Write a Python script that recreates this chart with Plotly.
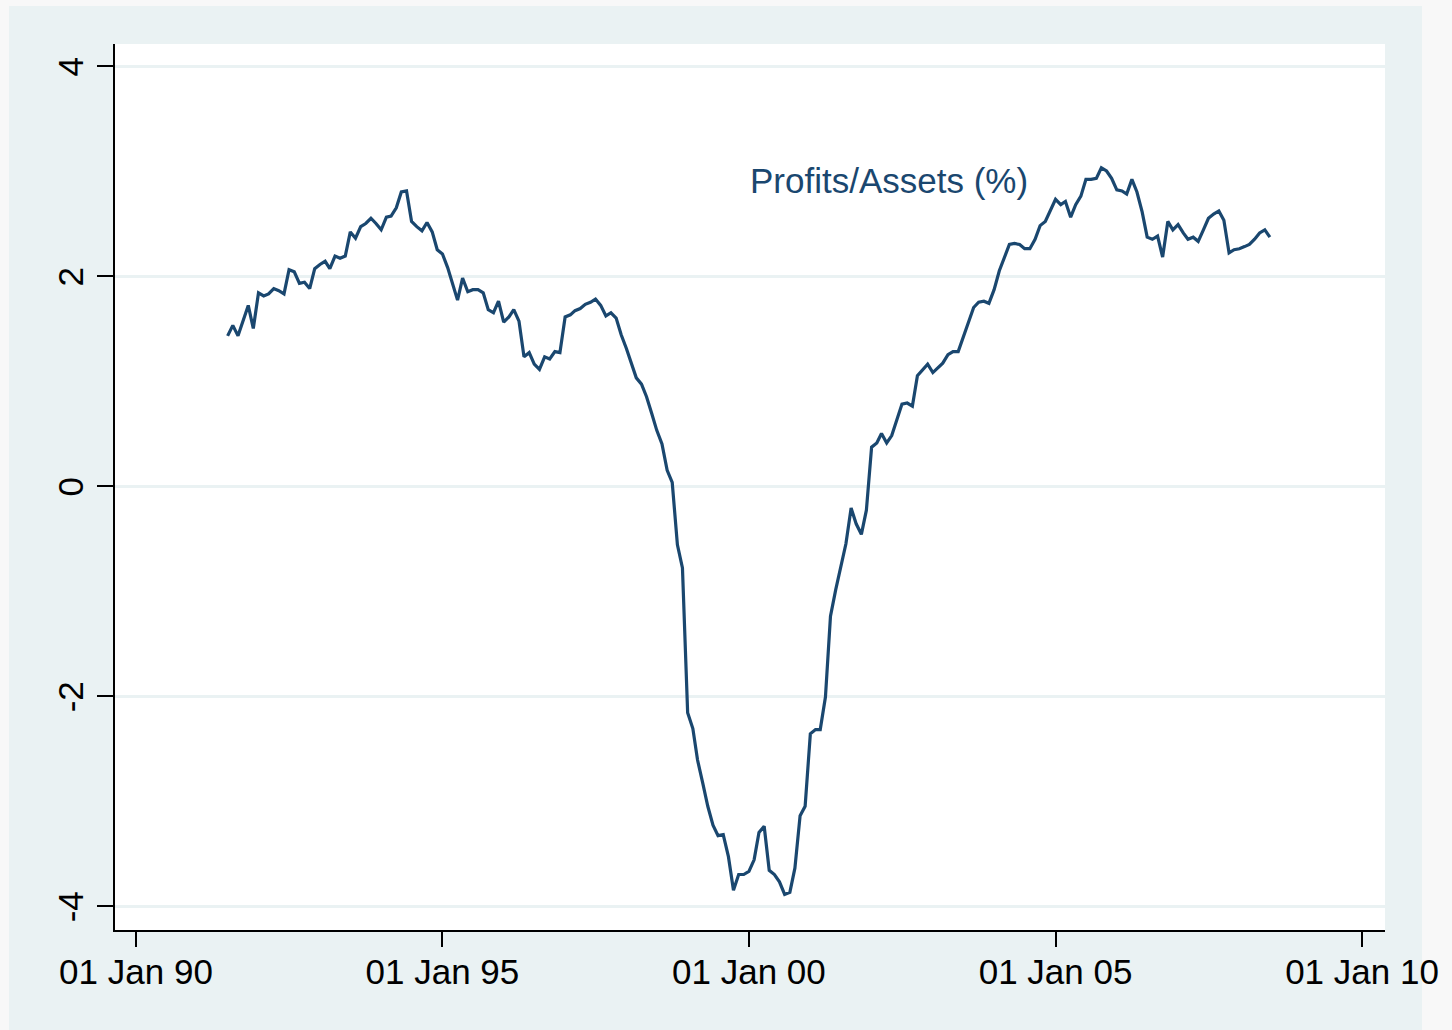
import pandas as pd
import plotly.graph_objects as go

# Monthly series, July 1991 .. July 2008
start_month = "1991-07-01"
profits_assets = [
    1.43, 1.53, 1.43, 1.58, 1.72, 1.50, 1.84, 1.81, 1.83, 1.88, 1.86, 1.83,
    2.06, 2.04, 1.93, 1.94, 1.88, 2.07, 2.11, 2.14, 2.07, 2.19, 2.17, 2.19,
    2.42, 2.36, 2.47, 2.50, 2.55, 2.50, 2.44, 2.56, 2.57, 2.65, 2.80, 2.81,
    2.52, 2.47, 2.43, 2.51, 2.42, 2.25, 2.21, 2.08, 1.93, 1.77, 1.98, 1.85,
    1.87, 1.87, 1.84, 1.68, 1.65, 1.76, 1.56, 1.61, 1.68, 1.57, 1.23, 1.27,
    1.16, 1.11, 1.23, 1.21, 1.28, 1.27, 1.61, 1.63, 1.67, 1.69, 1.73, 1.75,
    1.78, 1.72, 1.62, 1.65, 1.60, 1.44, 1.31, 1.17, 1.03, 0.97, 0.85, 0.69,
    0.53, 0.40, 0.15, 0.035, -0.56, -0.78, -2.16, -2.31, -2.61, -2.83, -3.05, -3.23,
    -3.33, -3.32, -3.53, -3.85, -3.70, -3.70, -3.67, -3.56, -3.30, -3.24, -3.66, -3.70,
    -3.77, -3.89, -3.87, -3.64, -3.14, -3.05, -2.36, -2.32, -2.32, -2.01, -1.24, -0.99,
    -0.78, -0.55, -0.21, -0.36, -0.46, -0.23, 0.37, 0.41, 0.50, 0.41, 0.48, 0.63,
    0.78, 0.79, 0.76, 1.05, 1.11, 1.16, 1.08, 1.13, 1.17, 1.25, 1.28, 1.28,
    1.42, 1.56, 1.70, 1.75, 1.76, 1.74, 1.87, 2.05, 2.17, 2.30, 2.31, 2.30,
    2.26, 2.26, 2.35, 2.48, 2.52, 2.63, 2.73, 2.68, 2.71, 2.56, 2.68, 2.76,
    2.92, 2.92, 2.93, 3.03, 3.00, 2.93, 2.82, 2.81, 2.78, 2.92, 2.80, 2.61,
    2.37, 2.35, 2.38, 2.18, 2.52, 2.44, 2.49, 2.41, 2.35, 2.37, 2.33, 2.44,
    2.55, 2.59, 2.62, 2.53, 2.22, 2.25, 2.26, 2.28, 2.30, 2.35, 2.41, 2.44,
    2.37,
]
dates = pd.date_range(start_month, periods=len(profits_assets), freq="MS")

x_tick_vals = ["1990-01-01", "1995-01-01", "2000-01-01", "2005-01-01", "2010-01-01"]
x_tick_text = ["01 Jan 90", "01 Jan 95", "01 Jan 00", "01 Jan 05", "01 Jan 10"]
y_tick_vals = [-4, -2, 0, 2, 4]
y_tick_text = ["-4", "-2", "0", "2", "4"]

series_label = "Profits/Assets (%)"
label_x = "1999-12-26"
label_y = 2.91

navy = "#1A476F"
panel = "#EAF2F3"
font_family = "Liberation Sans, Arial, sans-serif"

fig = go.Figure()
fig.add_trace(go.Scatter(x=dates, y=profits_assets, mode="lines",
                         line=dict(color=navy, width=3.2), showlegend=False))

fig.add_annotation(x=label_x, y=label_y, xref="x", yref="y", text=series_label,
                   showarrow=False, xanchor="left", yanchor="middle",
                   font=dict(size=35, color=navy, family=font_family))

W, H = 1452, 1030
L, R, T, B = 115, 1385, 44, 930
pw, ph = R - L, B - T
def px_x(p):
    return (p - L) / pw
def px_y(p):
    return (B - p) / ph

# outer panel (graph region) and white plot region
fig.add_shape(type="rect", xref="paper", yref="paper", layer="below",
              x0=px_x(9), x1=px_x(1422), y0=px_y(1030), y1=px_y(6),
              fillcolor=panel, line=dict(width=0))
fig.add_shape(type="rect", xref="paper", yref="paper", layer="below",
              x0=0, x1=1, y0=0, y1=1, fillcolor="white", line=dict(width=0))

fig.update_layout(
    width=W, height=H,
    margin=dict(l=L, r=W - R, t=T, b=H - B, pad=0),
    paper_bgcolor="#F8F8F8",
    plot_bgcolor="rgba(0,0,0,0)",
    font=dict(family=font_family, size=35, color="black"),
    showlegend=False,
)
fig.update_xaxes(
    type="date", range=["1989-08-29", "2010-05-18"],
    tickmode="array", tickvals=x_tick_vals, ticktext=x_tick_text,
    showgrid=False, zeroline=False,
    showline=True, linecolor="black", linewidth=2,
    ticks="outside", ticklen=15, tickwidth=2, tickcolor="black",
    ticklabelstandoff=-5,
    tickfont=dict(size=35, color="black", family=font_family),
)
fig.update_yaxes(
    range=[-4.2286, 4.2095],
    tickmode="array", tickvals=y_tick_vals, ticktext=y_tick_text,
    showgrid=True, gridcolor=panel, gridwidth=2.5, zeroline=False,
    showline=True, linecolor="black", linewidth=2,
    ticks="outside", ticklen=16, tickwidth=2, tickcolor="black",
    tickangle=-90, ticklabelshift=6,
    tickfont=dict(size=35, color="black", family=font_family),
)

fig.write_html("out.html", config={"displayModeBar": False},
               post_script="document.body.style.margin='0';")
